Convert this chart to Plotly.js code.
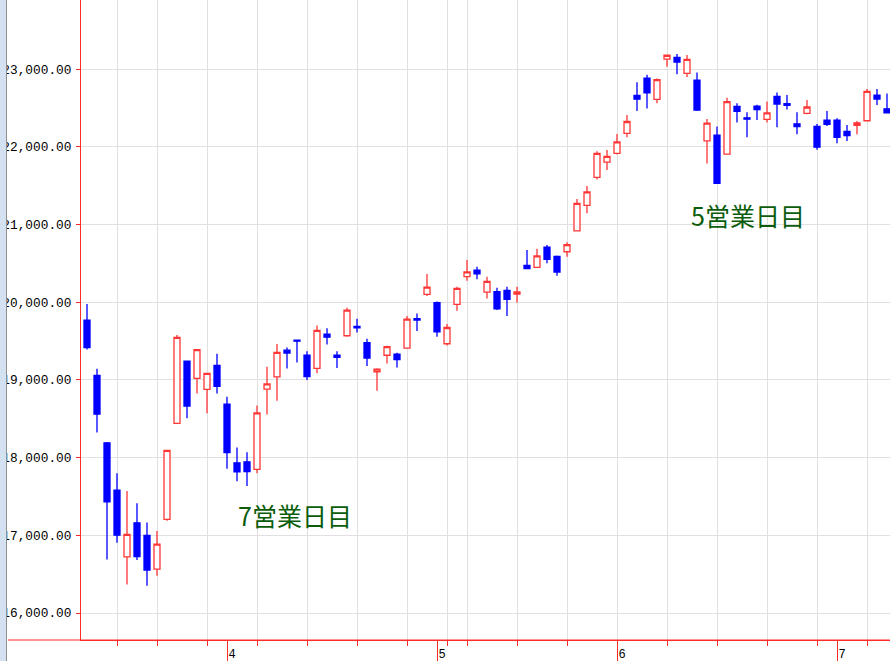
<!DOCTYPE html>
<html><head><meta charset="utf-8">
<script src="https://cdn.plot.ly/plotly-3.0.1.min.js"></script>
<style>html,body{margin:0;padding:0;background:#fff;overflow:hidden;} #chart{width:890px;height:661px;}</style>
</head><body><div id="chart"></div>
<script>
const dates = [
 '2020-03-11','2020-03-12','2020-03-13','2020-03-16','2020-03-17','2020-03-18','2020-03-19','2020-03-23','2020-03-24','2020-03-25',
 '2020-03-26','2020-03-27','2020-03-30','2020-03-31','2020-04-01','2020-04-02','2020-04-03','2020-04-06','2020-04-07','2020-04-08',
 '2020-04-09','2020-04-10','2020-04-13','2020-04-14','2020-04-15','2020-04-16','2020-04-17','2020-04-20','2020-04-21','2020-04-22',
 '2020-04-23','2020-04-24','2020-04-27','2020-04-28','2020-04-30','2020-05-01','2020-05-07','2020-05-08','2020-05-11','2020-05-12',
 '2020-05-13','2020-05-14','2020-05-15','2020-05-18','2020-05-19','2020-05-20','2020-05-21','2020-05-22','2020-05-25','2020-05-26',
 '2020-05-27','2020-05-28','2020-05-29','2020-06-01','2020-06-02','2020-06-03','2020-06-04','2020-06-05','2020-06-08','2020-06-09',
 '2020-06-10','2020-06-11','2020-06-12','2020-06-15','2020-06-16','2020-06-17','2020-06-18','2020-06-19','2020-06-22','2020-06-23',
 '2020-06-24','2020-06-25','2020-06-26','2020-06-29','2020-06-30','2020-07-01','2020-07-02','2020-07-03','2020-07-06','2020-07-07',
 '2020-07-08'];
const openV = [
 19770,19058,18190,17582,16723,17161,16998,16565,17205,18440,
 19240,19019,18877,19187,18689,17933,17946,17848,18882,19040,
 19383,19512,19317,19148,19589,19317,19568,19688,19478,19105,
 19317,19332,19409,19787,20100,19993,19465,19972,20328,20413,
 20130,20134,20151,20104,20473,20448,20709,20589,20649,20919,
 21246,21606,21803,21915,22172,22662,22884,22610,23129,23151,
 22945,22858,22077,22151,21906,22520,22373,22524,22353,22648,
 22554,22296,22430,22262,22344,22344,22198,22275,22335,22665,
 22489];
const highV = [
 19976,19143,18200,17797,17569,17411,17166,17054,18092,19577,
 19245,19396,19090,19337,18783,18131,18068,18672,19169,19461,
 19418,19515,19369,19701,19666,19369,19928,19787,19529,19150,
 19440,19349,19821,19856,20362,20010,19719,20200,20542,20456,
 20328,20186,20199,20199,20671,20688,20735,20600,20770,21327,
 21494,21941,21958,22163,22408,22829,22927,22880,23189,23193,
 23180,22957,22356,22262,22631,22559,22443,22541,22584,22700,
 22665,22443,22601,22292,22459,22366,22279,22331,22743,22743,
 22687];
const lowV = [
 19390,18324,16690,16904,16368,16681,16350,16479,17187,18440,
 18505,18826,18570,18826,17856,17697,17633,17797,18556,18731,
 19148,19225,18997,19084,19457,19152,19555,19611,19178,18860,
 19212,19161,19400,19628,20080,19555,19444,19890,20277,20294,
 20049,19900,19821,19997,20430,20440,20500,20340,20585,20910,
 21143,21580,21700,21902,22121,22459,22494,22559,23030,22932,
 22897,22459,21786,21529,21897,22314,22121,22344,22314,22250,
 22481,22160,22417,21961,22266,22044,22073,22160,22330,22537,
 22430];
const closeV = [
 19416,18559,17431,17002,17011,16726,16552,16887,18092,19546,
 18664,19389,19085,18917,18065,17818,17820,18576,18950,19353,
 19346,19498,19043,19638,19550,19290,19897,19669,19281,19138,
 19429,19262,19783,19771,20193,19619,19674,20179,20390,20366,
 20267,19914,20037,20133,20433,20595,20552,20388,20741,21271,
 21419,21916,21877,22062,22325,22613,22695,22863,23178,23091,
 23124,22472,22305,21530,22582,22455,22355,22478,22437,22549,
 22534,22259,22512,21995,22288,22121,22145,22306,22714,22614,
 22438];
const noteTexts = ['7営業日目', '5営業日目'];

const idx = dates.map((d, i) => i);
const parsed = dates.map(d => new Date(d + 'T00:00:00Z'));
const weekStarts = [], monthStarts = [], monthLabels = [];
for (let i = 1; i < parsed.length; i++) {
  if (parsed[i].getUTCDay() <= parsed[i - 1].getUTCDay()) weekStarts.push(i);
  if (parsed[i].getUTCMonth() !== parsed[i - 1].getUTCMonth()) {
    monthStarts.push(i);
    monthLabels.push(String(parsed[i].getUTCMonth() + 1));
  }
}

const W = 890, H = 661, ML = 81, MB = 21;
const PW = W - ML;
const px = p => (p - ML) / PW;
const RED = '#ff2a2a';
const GRID = '#e0e0e0';
const xr = [-0.6, 80.3];
// annotation placement (layout, paper-pixel based)
const notePos = [{x: 294.5, y: 515}, {x: 748, y: 215}];

const traces = [
  {
    type: 'candlestick', x: idx, open: openV, high: highV, low: lowV, close: closeV,
    xaxis: 'x', yaxis: 'y', whiskerwidth: 0, hoverinfo: 'skip',
    increasing: {line: {color: '#ff3636', width: 1.3}, fillcolor: '#ffffff'},
    decreasing: {line: {color: '#0000ff', width: 1.3}, fillcolor: '#0000ff'},
    showlegend: false
  },
  {
    type: 'scatter', mode: 'markers', x: monthStarts, y: monthStarts.map(() => null),
    xaxis: 'x2', yaxis: 'y', hoverinfo: 'skip', showlegend: false
  }
];

const layout = {
  width: W, height: H,
  margin: {l: ML, r: 0, t: 0, b: MB, pad: 0},
  paper_bgcolor: '#ffffff', plot_bgcolor: '#ffffff',
  showlegend: false,
  boxgap: 0.4, boxgroupgap: 0,
  xaxis: {
    type: 'linear', range: xr, tickmode: 'array', tickvals: weekStarts,
    ticks: 'outside', ticklen: 5, tickcolor: RED, tickwidth: 1,
    showticklabels: false, showgrid: true, gridcolor: GRID, gridwidth: 1,
    showline: true, linecolor: RED, linewidth: 1, zeroline: false,
    rangeslider: {visible: false}, fixedrange: true
  },
  xaxis2: {
    type: 'linear', overlaying: 'x', anchor: 'y', side: 'bottom', range: xr,
    tickmode: 'array', tickvals: monthStarts, ticktext: monthLabels,
    ticks: 'outside', ticklen: 21, tickcolor: RED, tickwidth: 1,
    showgrid: false, showline: false, zeroline: false,
    tickfont: {family: 'Liberation Mono', size: 12, color: '#000'},
    ticklabelstandoff: -18, ticklabelshift: 5, fixedrange: true
  },
  yaxis: {
    range: [15652.6, 23888.9], tickmode: 'linear', tick0: 0, dtick: 1000,
    tickformat: ',.2f', ticks: 'outside', ticklen: 4, tickcolor: RED, tickwidth: 1,
    showline: true, linecolor: RED, linewidth: 1, zeroline: false,
    showgrid: true, gridcolor: GRID, gridwidth: 1,
    tickfont: {family: 'Liberation Mono', size: 12.8, color: '#000'},
    ticklabelstandoff: 2, fixedrange: true
  },
  shapes: [
    {type: 'line', xref: 'paper', yref: 'paper', x0: px(8), x1: 1, y0: 0, y1: 0,
     line: {color: RED, width: 1}, layer: 'above'},
    {type: 'rect', xref: 'paper', yref: 'paper', x0: px(-2), x1: px(6), y0: -0.1, y1: 1.1,
     fillcolor: '#d3e1f0', line: {width: 0}, layer: 'above'},
    {type: 'line', xref: 'paper', yref: 'paper', x0: px(6.5), x1: px(6.5), y0: -0.1, y1: 1.1,
     line: {color: '#8f8f8f', width: 1}, layer: 'above'}
  ],
  annotations: noteTexts.map((t, k) => ({
    text: t, x: px(notePos[k].x), y: 1 - notePos[k].y / (H - MB), xref: 'paper', yref: 'paper',
    showarrow: false, xanchor: 'center', yanchor: 'middle',
    font: {family: 'Noto Sans CJK JP', size: 25, color: '#0b5d0b'}
  }))
};

Plotly.newPlot('chart', traces, layout, {staticPlot: true, displayModeBar: false});
</script>
</body></html>
